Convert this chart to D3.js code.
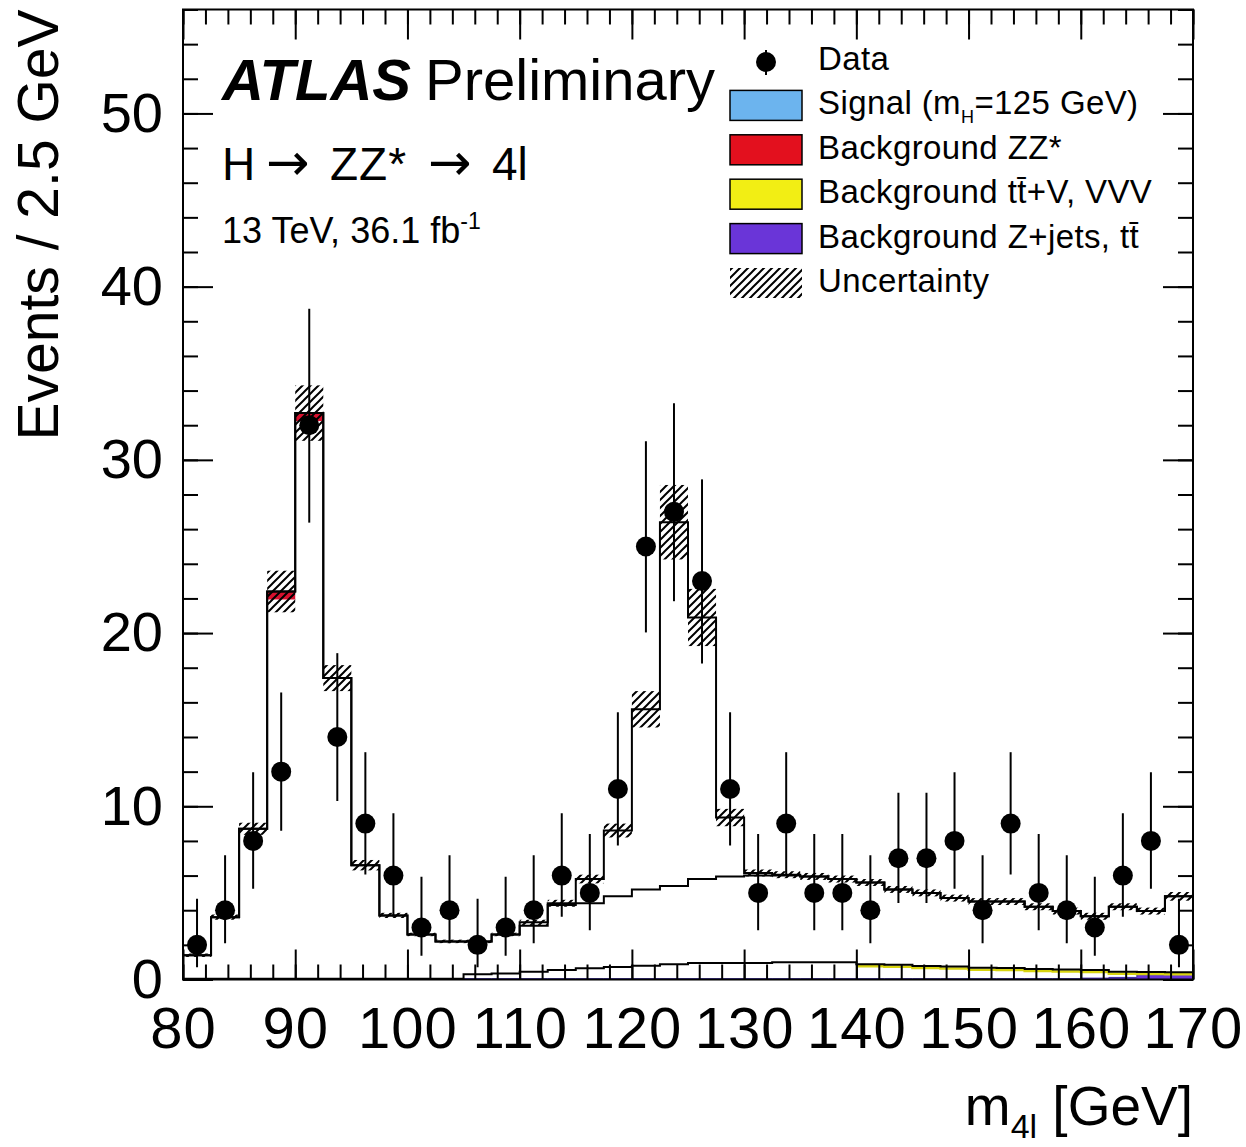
<!DOCTYPE html>
<html>
<head>
<meta charset="utf-8">
<script src="https://cdn.jsdelivr.net/npm/d3@7"></script>
<style>
  body { margin: 0; background: #fff; }
  text { font-family: "Liberation Sans", Arial, Helvetica, sans-serif; fill: #000; }
</style>
</head>
<body>
<div id="chart"></div>
<script>
// 2.5 GeV bins, lower edges
var binLow = [80, 82.5, 85, 87.5, 90, 92.5, 95, 97.5, 100, 102.5, 105, 107.5,
              110, 112.5, 115, 117.5, 120, 122.5, 125, 127.5, 130, 132.5, 135, 137.5,
              140, 142.5, 145, 147.5, 150, 152.5, 155, 157.5, 160, 162.5, 165, 167.5];
var binWidth = 2.5;

// observed events per bin
var dataCounts = [2, 4, 8, 12, 32, 14, 9, 6, 3, 4, 2, 3,
                  4, 6, 5, 11, 25, 27, 23, 11, 5, 9, 5, 5,
                  4, 7, 7, 8, 4, 9, 5, 4, 3, 6, 8, 2];

// total background (ZZ* + ttV,VVV + Z+jets,tt)
var bkgTotal = [1.4, 3.6, 8.7, 22.4, 32.7, 17.4, 6.6, 3.7, 2.6, 2.2, 2.2, 2.6,
                3.1, 4.3, 4.4, 4.8, 5.2, 5.4, 5.8, 5.95, 6.0, 6.0, 5.95, 5.8,
                5.6, 5.2, 5.0, 4.7, 4.5, 4.5, 4.2, 3.95, 3.65, 4.2, 3.95, 4.8];

// signal mH = 125 GeV, stacked on top
var signal = [0, 0, 0, 0, 0, 0, 0, 0, 0, 0, 0, 0,
              0.2, 0.1, 1.4, 3.8, 10.4, 21.0, 15.1, 3.4, 0.15, 0.05, 0, 0,
              0, 0, 0, 0, 0, 0, 0, 0, 0, 0, 0, 0];

// ttV,VVV + Z+jets,tt stacked
var lowBkg = [0.05, 0.05, 0.05, 0.05, 0.05, 0.05, 0.05, 0.05, 0.05, 0.05, 0.3, 0.35,
              0.45, 0.55, 0.65, 0.72, 0.8, 0.88, 0.95, 0.95, 0.95, 1.0, 1.0, 1.0,
              0.88, 0.85, 0.78, 0.75, 0.68, 0.66, 0.6, 0.58, 0.55, 0.45, 0.44, 0.42];

// Z+jets, tt alone
var zjets = [0.05, 0.05, 0.05, 0.05, 0.05, 0.05, 0.05, 0.05, 0.05, 0.05, 0.05, 0.05,
             0.05, 0.05, 0.05, 0.05, 0.05, 0.05, 0.05, 0.05, 0.05, 0.05, 0.05, 0.05,
             0.05, 0.05, 0.05, 0.05, 0.05, 0.05, 0.05, 0.05, 0.08, 0.12, 0.28, 0.3];

// uncertainty on the total prediction (+/-)
var uncert = [0.1, 0.15, 0.35, 1.2, 1.6, 0.75, 0.3, 0.15, 0.1, 0.1, 0.1, 0.1,
              0.15, 0.2, 0.25, 0.4, 1.05, 2.15, 1.65, 0.5, 0.2, 0.2, 0.2, 0.2,
              0.2, 0.2, 0.2, 0.2, 0.2, 0.2, 0.2, 0.2, 0.2, 0.2, 0.2, 0.25];

var xTicks = [80, 90, 100, 110, 120, 130, 140, 150, 160, 170];
var yTicks = [0, 10, 20, 30, 40, 50];

var legendItems = [
  { label: "Data", kind: "data" },
  { label: "Signal", kind: "box", color: "#6cb4ee" },
  { label: "Background ZZ*", kind: "box", color: "#e3101e" },
  { label: "Background tt\u0304+V, VVV", kind: "box", color: "#f2ee14" },
  { label: "Background Z+jets, tt\u0304", kind: "box", color: "#6a35d8" },
  { label: "Uncertainty", kind: "hatch" }
];

var width = 1246, height = 1147;
var pLeft = 183, pRight = 1193, pTop = 9.5, pBottom = 979.5;

var x = d3.scaleLinear().domain([80, 170]).range([pLeft, pRight]);
var y = d3.scaleLinear().domain([0, 56]).range([pBottom, pTop]);

var svg = d3.select("#chart").append("svg")
  .attr("width", width)
  .attr("height", height);

var defs = svg.append("defs");
defs.append("pattern")
  .attr("id", "hatch")
  .attr("patternUnits", "userSpaceOnUse")
  .attr("width", 8).attr("height", 8)
  .append("path")
  .attr("d", "M-2,2 l4,-4 M0,8 l8,-8 M6,10 l4,-4")
  .attr("stroke", "#000")
  .attr("stroke-width", 2);

defs.append("clipPath").attr("id", "plotclip")
  .append("rect")
  .attr("x", pLeft).attr("y", pTop)
  .attr("width", pRight - pLeft).attr("height", pBottom - pTop);

var plot = svg.append("g").attr("clip-path", "url(#plotclip)");

function steps(vals) {
  var pts = vals.map(function(v, i) { return [binLow[i], v]; });
  pts.push([binLow[binLow.length - 1] + binWidth, vals[vals.length - 1]]);
  return pts;
}

var stepLine = d3.line()
  .x(function(d) { return x(d[0]); })
  .y(function(d) { return y(d[1]); })
  .curve(d3.curveStepAfter);

var stepArea = d3.area()
  .x(function(d) { return x(d[0]); })
  .y0(y(0))
  .y1(function(d) { return y(d[1]); })
  .curve(d3.curveStepAfter);

var total = bkgTotal.map(function(b, i) { return b + signal[i]; });

// low backgrounds
plot.append("path")
  .attr("d", stepArea(steps(zjets)))
  .attr("fill", "#6a35d8")
  .attr("stroke", "#3a2aa0")
  .attr("stroke-width", 1);

var ttvVisible = binLow.map(function(b, i) { return { b: b, v: lowBkg[i] }; })
  .filter(function(d) { return d.b >= 140; });
var ttvPts = ttvVisible.map(function(d) { return [d.b, d.v]; });
ttvPts.push([170, ttvVisible[ttvVisible.length - 1].v]);
plot.append("path")
  .attr("d", stepLine(ttvPts))
  .attr("fill", "none")
  .attr("stroke", "#d8d410")
  .attr("stroke-width", 2.5)
  .attr("transform", "translate(0,2)");

plot.append("path")
  .attr("d", stepLine(steps(lowBkg)))
  .attr("fill", "none")
  .attr("stroke", "#000")
  .attr("stroke-width", 2);

// red ZZ* edge visible at the Z peak
plot.selectAll(".zzstrip")
  .data(binLow.map(function(b, i) { return { b: b, v: bkgTotal[i] }; })
    .filter(function(d) { return d.v > 20; }))
  .enter().append("rect")
  .attr("x", function(d) { return x(d.b); })
  .attr("y", function(d) { return y(d.v); })
  .attr("width", function(d) { return x(d.b + binWidth) - x(d.b); })
  .attr("height", 8)
  .attr("fill", "#d8102e");

// background and total outlines
plot.append("path")
  .attr("d", stepLine(steps(bkgTotal)))
  .attr("fill", "none")
  .attr("stroke", "#000")
  .attr("stroke-width", 2);

plot.append("path")
  .attr("d", stepLine(steps(total)))
  .attr("fill", "none")
  .attr("stroke", "#000")
  .attr("stroke-width", 2);

// uncertainty band
plot.selectAll(".unc")
  .data(total)
  .enter().append("rect")
  .attr("x", function(d, i) { return x(binLow[i]); })
  .attr("width", function(d, i) { return x(binLow[i] + binWidth) - x(binLow[i]); })
  .attr("y", function(d, i) { return y(d + uncert[i]); })
  .attr("height", function(d, i) { return y(d - uncert[i]) - y(d + uncert[i]); })
  .attr("fill", "url(#hatch)");

// data with Poisson error bars
function poissonUp(n) { return n + Math.sqrt(n + 0.75) + 1; }
function poissonLo(n) {
  if (n === 0) return 0;
  return n * Math.pow(1 - 1 / (9 * n) - 1 / (3 * Math.sqrt(n)), 3);
}

var pts = dataCounts.map(function(n, i) { return { m: binLow[i] + binWidth / 2, n: n }; });

plot.selectAll(".err")
  .data(pts)
  .enter().append("line")
  .attr("x1", function(d) { return x(d.m); })
  .attr("x2", function(d) { return x(d.m); })
  .attr("y1", function(d) { return y(poissonUp(d.n)); })
  .attr("y2", function(d) { return y(poissonLo(d.n)); })
  .attr("stroke", "#000")
  .attr("stroke-width", 2);

plot.selectAll(".pt")
  .data(pts)
  .enter().append("circle")
  .attr("cx", function(d) { return x(d.m); })
  .attr("cy", function(d) { return y(d.n); })
  .attr("r", 10)
  .attr("fill", "#000");

// axes, ROOT style ticks pointing inwards
var minorX = d3.range(80, 171, 2);
var minorY = d3.range(0, 57, 2);

function styleAxis(g) {
  g.select(".domain").remove();
  g.selectAll(".tick line").attr("stroke", "#000").attr("stroke-width", 2);
}

svg.append("g").attr("transform", "translate(0," + pBottom + ")")
  .call(d3.axisBottom(x).tickValues(minorX).tickSize(-15).tickFormat(""))
  .call(styleAxis);
svg.append("g").attr("transform", "translate(0," + pBottom + ")")
  .call(d3.axisBottom(x).tickValues(xTicks).tickSize(-30).tickPadding(27).tickFormat(d3.format("d")))
  .call(styleAxis)
  .selectAll("text")
  .style("font-size", "58px")
  .style("letter-spacing", "1px")
  .attr("fill", "#000");

svg.append("g").attr("transform", "translate(0," + pTop + ")")
  .call(d3.axisTop(x).tickValues(minorX).tickSize(-15).tickFormat(""))
  .call(styleAxis);
svg.append("g").attr("transform", "translate(0," + pTop + ")")
  .call(d3.axisTop(x).tickValues(xTicks).tickSize(-30).tickFormat(""))
  .call(styleAxis);

svg.append("g").attr("transform", "translate(" + pLeft + ",0)")
  .call(d3.axisLeft(y).tickValues(minorY).tickSize(-15).tickFormat(""))
  .call(styleAxis);
svg.append("g").attr("transform", "translate(" + pLeft + ",0)")
  .call(d3.axisLeft(y).tickValues(yTicks).tickSize(-30).tickPadding(20).tickFormat(d3.format("d")))
  .call(styleAxis)
  .selectAll("text")
  .style("font-size", "56px")
  .attr("fill", "#000");

svg.append("g").attr("transform", "translate(" + pRight + ",0)")
  .call(d3.axisRight(y).tickValues(minorY).tickSize(-15).tickFormat(""))
  .call(styleAxis);
svg.append("g").attr("transform", "translate(" + pRight + ",0)")
  .call(d3.axisRight(y).tickValues(yTicks).tickSize(-30).tickFormat(""))
  .call(styleAxis);

svg.append("rect")
  .attr("x", pLeft).attr("y", pTop)
  .attr("width", pRight - pLeft).attr("height", pBottom - pTop)
  .attr("fill", "none")
  .attr("stroke", "#000")
  .attr("stroke-width", 2);

// axis titles
svg.append("text")
  .attr("transform", "translate(58," + pTop + ") rotate(-90)")
  .attr("text-anchor", "end")
  .style("font-size", "57px")
  .text("Events / 2.5 GeV");

var xt = svg.append("text")
  .attr("x", pRight)
  .attr("y", 1125)
  .attr("text-anchor", "end")
  .style("font-size", "55px");
xt.append("tspan").text("m");
xt.append("tspan").attr("dy", 13).style("font-size", "34px").text("4l");
xt.append("tspan").attr("dy", -13).text(" [GeV]");

// labels
var atlas = svg.append("text").attr("x", 222).attr("y", 100).style("font-size", "58px");
atlas.append("tspan").style("font-weight", "bold").style("font-style", "italic").text("ATLAS");
atlas.append("tspan").attr("dx", 14).text("Preliminary");

var proc = svg.append("text").attr("y", 180).style("font-size", "46px");
proc.append("tspan").attr("x", 222).text("H");
proc.append("tspan").attr("x", 266).style("font-family", "DejaVu Sans").style("font-size", "52px").text("\u2192");
proc.append("tspan").attr("x", 330).style("letter-spacing", "1px").text("ZZ*");
proc.append("tspan").attr("x", 428).style("font-family", "DejaVu Sans").style("font-size", "52px").text("\u2192");
proc.append("tspan").attr("x", 492).text("4l");

var lumi = svg.append("text").attr("x", 222).attr("y", 243).style("font-size", "36px");
lumi.append("tspan").text("13 TeV, 36.1 fb");
lumi.append("tspan").attr("dy", -14).style("font-size", "23px").text("-1");

// legend
var legend = svg.append("g");
var rowH = 44.4, legY = 70;
legendItems.forEach(function(d, i) {
  var base = legY + i * rowH;
  if (d.kind === "data") {
    legend.append("line")
      .attr("x1", 766).attr("x2", 766)
      .attr("y1", base - 20).attr("y2", base + 5)
      .attr("stroke", "#000").attr("stroke-width", 2);
    legend.append("circle").attr("cx", 766).attr("cy", base - 8).attr("r", 10).attr("fill", "#000");
  } else if (d.kind === "box") {
    legend.append("rect")
      .attr("x", 730).attr("y", base - 24)
      .attr("width", 72).attr("height", 30)
      .attr("fill", d.color)
      .attr("stroke", "#000").attr("stroke-width", 1.5);
  } else {
    legend.append("rect")
      .attr("x", 730).attr("y", base - 24)
      .attr("width", 72).attr("height", 30)
      .attr("fill", "url(#hatch)");
  }
  var t = legend.append("text").attr("x", 818).attr("y", base)
    .style("font-size", "33px").style("letter-spacing", "0.4px");
  if (d.label === "Signal") {
    t.append("tspan").text("Signal (m");
    t.append("tspan").attr("dy", 9).style("font-size", "18px").text("H");
    t.append("tspan").attr("dy", -9).text("=125 GeV)");
  } else {
    t.text(d.label);
  }
});
</script>
</body>
</html>
